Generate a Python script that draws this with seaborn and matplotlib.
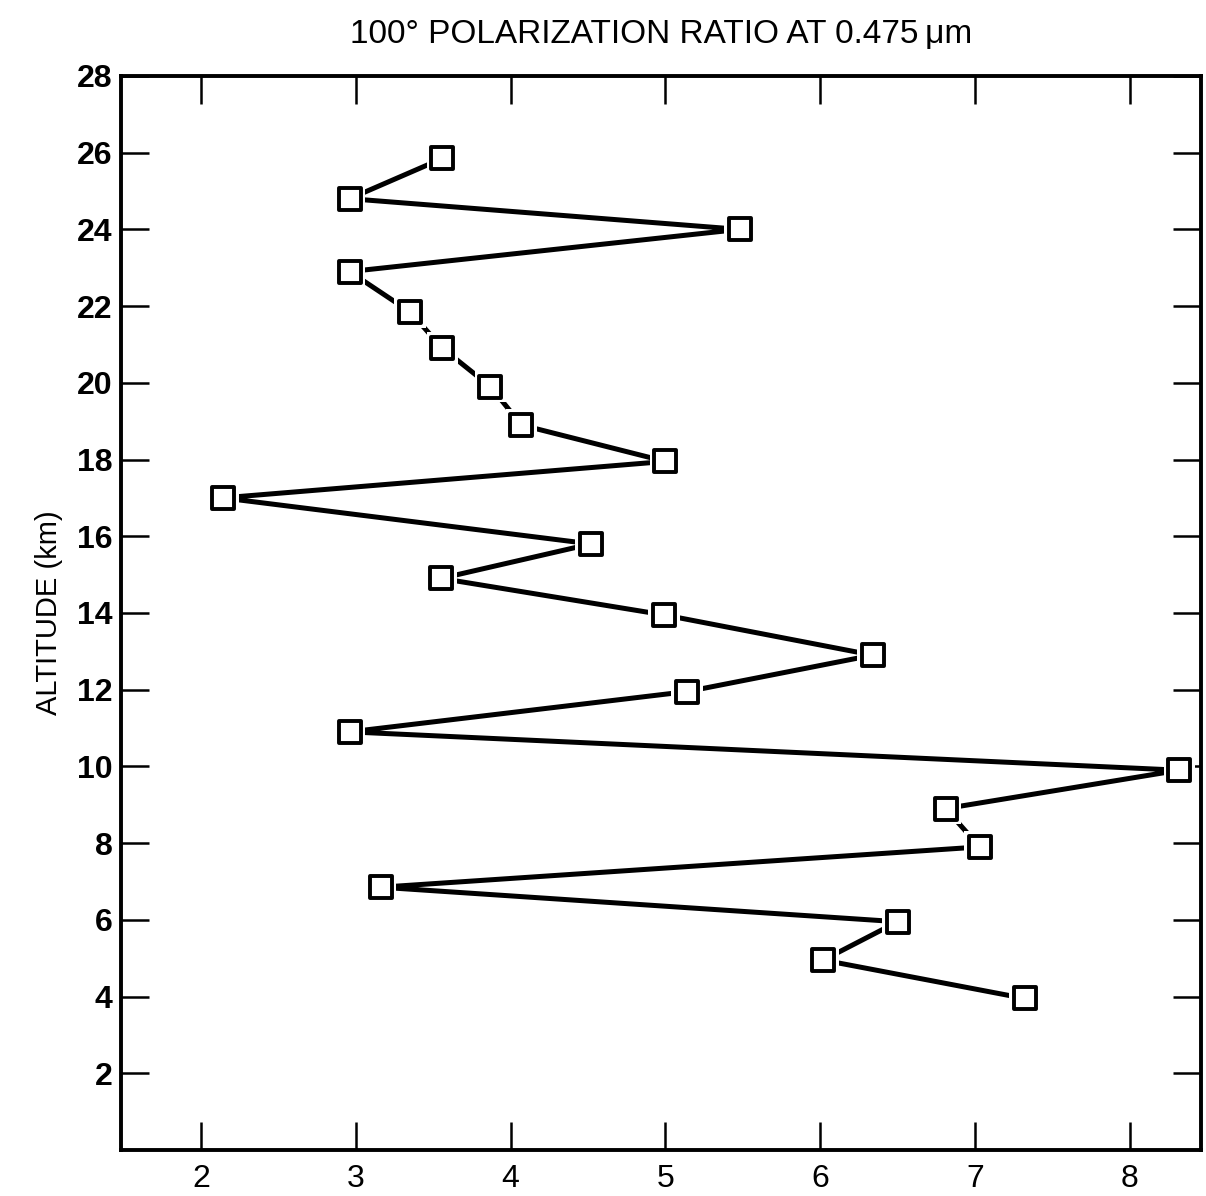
#!/usr/bin/env python3
"""100 deg polarization ratio profile at 0.475 um."""

import matplotlib.pyplot as plt
import pandas as pd
import seaborn as sns

# altitude (km) and polarization ratio
altitude = [25.85, 24.8, 24.0, 22.9, 21.85, 20.9, 19.9, 18.9, 17.95, 17.0,
            15.8, 14.9, 13.95, 12.9, 11.95, 10.9, 9.9, 8.9, 7.9, 6.85,
            5.95, 4.95, 3.95]
ratio = [3.56, 2.96, 5.48, 2.96, 3.35, 3.56, 3.87, 4.07, 5.00, 2.14,
         4.52, 3.55, 4.99, 6.34, 5.14, 2.96, 8.32, 6.81, 7.03, 3.16,
         6.50, 6.02, 7.32]

x_ticks = [2, 3, 4, 5, 6, 7, 8]
y_ticks = list(range(2, 29, 2))

TITLE = "100\u00b0 POLARIZATION RATIO AT 0.475\u2009\u03bcm"
Y_LABEL = "ALTITUDE (km)"


def main() -> None:
    sns.set_style("ticks")
    plt.rcParams["font.family"] = ["Liberation Sans", "DejaVu Sans"]
    plt.rcParams["text.color"] = "black"
    plt.rcParams["axes.labelcolor"] = "black"

    df = pd.DataFrame({"ratio": ratio, "altitude": altitude})

    fig = plt.figure(figsize=(12.06, 11.96), dpi=100)
    ax = fig.add_axes([0.1003, 0.0385, 0.8956, 0.898])

    sns.lineplot(data=df, x="ratio", y="altitude", sort=False,
                 estimator=None, color="black", linewidth=3.6, ax=ax,
                 zorder=2)
    # white halo so the line stops short of each marker
    sns.scatterplot(data=df, x="ratio", y="altitude", marker="s", s=520,
                    color="white", edgecolor="none", ax=ax, zorder=3)
    sns.scatterplot(data=df, x="ratio", y="altitude", marker="s", s=270,
                    facecolor="white", edgecolor="black", linewidth=2.8,
                    ax=ax, zorder=4)

    ax.set_xlim(1.483, 8.46)
    ax.set_ylim(0, 28)
    ax.set_xticks(x_ticks)
    ax.set_yticks(y_ticks)
    ax.set_xticklabels([str(v) for v in x_ticks], fontsize=23)
    ax.set_yticklabels([str(v) for v in y_ticks], fontsize=23,
                       fontweight="bold")
    ax.tick_params(axis="both", direction="in", length=20, width=1.8,
                   top=True, right=True, colors="black", pad=10)
    ax.tick_params(axis="y", pad=6)

    for side in ("left", "right", "top", "bottom"):
        ax.spines[side].set_visible(True)
        ax.spines[side].set_linewidth(2.8)
        ax.spines[side].set_color("black")

    ax.set_xlabel("")
    ax.set_ylabel(Y_LABEL, fontsize=21, labelpad=10, color="black")
    ax.set_title(TITLE, fontsize=24, pad=24, color="black")

    fig.savefig("out.png", dpi=100, facecolor="white")
    plt.close(fig)


if __name__ == "__main__":
    main()
